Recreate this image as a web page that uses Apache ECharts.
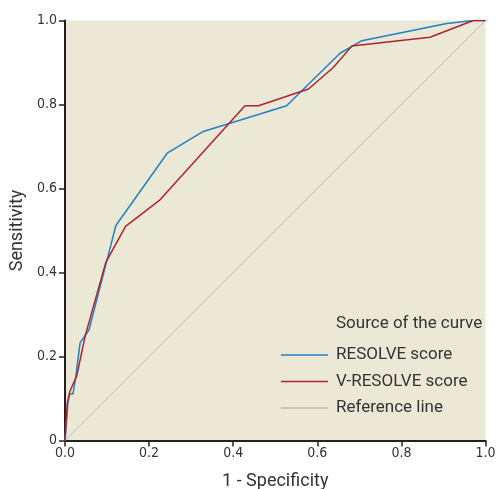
<!DOCTYPE html>
<html>
<head>
<meta charset="utf-8">
<script src="https://cdn.jsdelivr.net/npm/echarts@6/dist/echarts.min.js"></script>
<style>html,body{margin:0;padding:0;background:#fff;}#c{width:497px;height:489px;}</style>
</head>
<body>
<div id="c"></div>
<script>
var seriesNames = ['RESOLVE score', 'V-RESOLVE score', 'Reference line'];
var xTicks = [0, 0.2, 0.4, 0.6, 0.8, 1.0];
var yTicks = [0, 0.2, 0.4, 0.6, 0.8, 1.0];
var resolveX = [0, 0.007, 0.011, 0.019, 0.025, 0.036, 0.057, 0.121, 0.243, 0.327, 0.527, 0.654, 0.706, 0.908, 0.971, 1];
var resolveY = [0, 0.09, 0.111, 0.111, 0.148, 0.233, 0.263, 0.512, 0.684, 0.735, 0.797, 0.922, 0.952, 0.993, 1.0, 1];
var vresolveX = [0, 0.0055, 0.012, 0.028, 0.048, 0.097, 0.144, 0.226, 0.428, 0.46, 0.579, 0.638, 0.682, 0.868, 0.971, 1];
var vresolveY = [0, 0.09, 0.118, 0.154, 0.249, 0.424, 0.51, 0.573, 0.797, 0.797, 0.837, 0.888, 0.939, 0.96, 1.0, 1];
var refX = [0, 1];
var refY = [0, 1];

function pairs(xs, ys) { return xs.map(function (x, i) { return [x, ys[i]]; }); }

var narrow = "'Liberation Sans Narrow','DejaVu Sans Condensed',sans-serif";
var chart = echarts.init(document.getElementById('c'));
chart.setOption({
  animation: false,
  backgroundColor: '#ffffff',
  grid: { left: 65, right: 11.5, top: 20.5, bottom: 48.5, show: true, backgroundColor: '#ECE8D6', borderWidth: 0,
    outerBoundsMode: 'none', containLabel: false },
  xAxis: {
    type: 'value', min: 0, max: 1, interval: 0.2,
    name: '1 - Specificity', nameLocation: 'middle', nameGap: 32,
    nameTextStyle: { fontFamily: 'Roboto', fontSize: 18, color: '#333' },
    axisLine: { show: true, onZero: false, lineStyle: { color: '#222', width: 2 } },
    axisTick: { show: true, length: 6, lineStyle: { color: '#222', width: 1.5 } },
    axisLabel: { fontFamily: narrow, fontSize: 14, color: '#333', margin: 6,
      formatter: function (v) { return v.toFixed(1); } },
    splitLine: { show: false }
  },
  yAxis: {
    type: 'value', min: 0, max: 1, interval: 0.2,
    name: 'Sensitivity', nameLocation: 'middle', nameGap: 39,
    nameTextStyle: { fontFamily: 'Roboto', fontSize: 18, color: '#333' },
    axisLine: { show: true, onZero: false, lineStyle: { color: '#222', width: 2 } },
    axisTick: { show: true, length: 6, lineStyle: { color: '#222', width: 1.5 } },
    axisLabel: { fontFamily: narrow, fontSize: 14, color: '#333', margin: 8,
      formatter: function (v) { return v === 0 ? '0' : v.toFixed(1); } },
    splitLine: { show: false }
  },
  legend: {
    orient: 'vertical', left: 276, top: 340,
    data: seriesNames,
    icon: 'rect', itemWidth: 47, itemHeight: 1.5, itemGap: 6.5,
    textStyle: { fontFamily: 'Roboto', fontSize: 17, color: '#333', lineHeight: 20, padding: [0, 0, 0, 3] }
  },
  graphic: [{
    type: 'text', left: 336, top: 315,
    style: { text: 'Source of the curve', font: "17px Roboto", fill: '#333' }
  }],
  series: [
    { name: seriesNames[2], type: 'line', data: pairs(refX, refY), showSymbol: false, symbol: 'none',
      lineStyle: { color: '#BBBBBB', width: 1 }, itemStyle: { color: '#BBBBBB' }, z: 1 },
    { name: seriesNames[0], type: 'line', data: pairs(resolveX, resolveY), showSymbol: false, symbol: 'none',
      lineStyle: { color: '#2280C6', width: 1.5 }, itemStyle: { color: '#2280C6' }, z: 2 },
    { name: seriesNames[1], type: 'line', data: pairs(vresolveX, vresolveY), showSymbol: false, symbol: 'none',
      lineStyle: { color: '#B3222C', width: 1.5 }, itemStyle: { color: '#B3222C' }, z: 3 }
  ]
});
</script>
</body>
</html>
